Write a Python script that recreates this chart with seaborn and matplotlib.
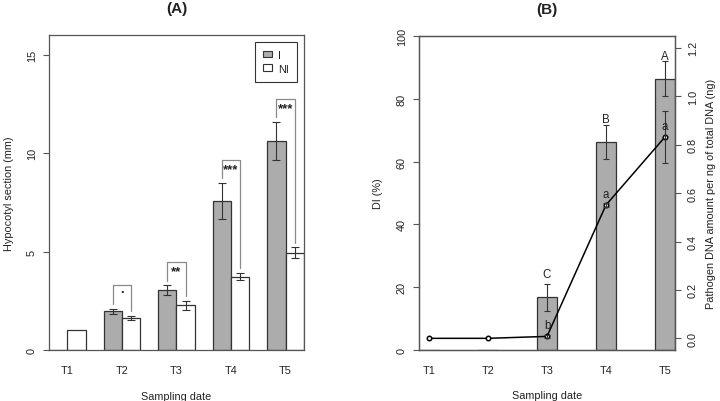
import numpy as np
import pandas as pd
import matplotlib
matplotlib.use('Agg')
import matplotlib.pyplot as plt
import seaborn as sns
from matplotlib.patches import Patch

dates = ['T1', 'T2', 'T3', 'T4', 'T5']

# (A) hypocotyl section (mm), infected / non-infected
hyp_I = [0.0, 1.97, 3.04, 7.57, 10.6]
hyp_I_err = [np.nan, 0.12, 0.24, 0.90, 0.97]
hyp_NI = [1.0, 1.63, 2.26, 3.72, 4.93]
hyp_NI_err = [np.nan, 0.10, 0.21, 0.18, 0.28]
signif = ['', '.', '**', '***', '***']

# (B) disease index and pathogen DNA
di = [0.0, 0.0, 16.7, 66.2, 86.4]
di_err = [np.nan, np.nan, 4.2, 5.4, 5.6]
di_letters = ['', '', 'C', 'B', 'A']
dna = [0.0, 0.0, 0.008, 0.551, 0.832]
dna_err = [0.0, 0.0, 0.006, 0.01, 0.107]
dna_letters = ['', '', 'b', 'a', 'a']

grey = '#acacac'
ink = '#333333'
fs = 7.8

sns.set_style('ticks')
plt.rcParams['font.family'] = ['Liberation Sans', 'DejaVu Sans']
plt.rcParams['font.size'] = fs
plt.rcParams['axes.edgecolor'] = '#555555'
plt.rcParams['axes.linewidth'] = 0.9
plt.rcParams['text.color'] = '#222222'
plt.rcParams['axes.labelcolor'] = '#222222'
plt.rcParams['xtick.color'] = '#555555'
plt.rcParams['ytick.color'] = '#555555'
plt.rcParams['xtick.labelcolor'] = '#222222'
plt.rcParams['ytick.labelcolor'] = '#222222'

fig = plt.figure(figsize=(7.2, 4.02), dpi=100)
axA = fig.add_axes([0.068, 0.127, 0.354, 0.783])
axB = fig.add_axes([0.5824, 0.1276, 0.3551, 0.7796])

# ---------- panel A ----------
dfA = pd.DataFrame({'date': dates * 2,
                    'group': ['I'] * 5 + ['NI'] * 5,
                    'value': hyp_I + hyp_NI})
sns.barplot(dfA, x='date', y='value', hue='group', order=dates,
            hue_order=['I', 'NI'], palette={'I': grey, 'NI': 'white'},
            width=0.67, errorbar=None, saturation=1, edgecolor=ink,
            linewidth=0.9, legend=False, ax=axA)

centers = []
for cont, vals, errs in zip(axA.containers, [hyp_I, hyp_NI], [hyp_I_err, hyp_NI_err]):
    xs = []
    for bar, v, e in zip(cont, vals, errs):
        x = bar.get_x() + bar.get_width() / 2
        xs.append(x)
        if np.isnan(e):
            continue
        axA.errorbar(x, v, yerr=e, color=ink, capsize=2.8,
                     elinewidth=0.8, capthick=0.8)
    centers.append(xs)

for i, s in enumerate(signif):
    if not s:
        continue
    xl, xr = centers[0][i], centers[1][i]
    tl = hyp_I[i] + hyp_I_err[i]
    tr = hyp_NI[i] + hyp_NI_err[i]
    top = max(tl, tr) + 1.2
    axA.plot([xl, xl, xr, xr], [tl + 0.25, top, top, tr + 0.25],
             color='#8a8a8a', lw=0.9)
    off = 0.2 if s == '.' else 0.5
    axA.text((xl + xr) / 2, top - off, s, ha='center', va='center',
             fontsize=9.5, fontweight='bold')

axA.legend(handles=[Patch(facecolor=grey, edgecolor=ink, lw=0.8, label='I'),
                    Patch(facecolor='white', edgecolor=ink, lw=0.8, label='NI')],
           loc='upper right', fancybox=False, edgecolor=ink, framealpha=1,
           handlelength=0.8, handleheight=0.6, borderaxespad=0.6, borderpad=0.75,
           labelspacing=0.35, handletextpad=0.6, fontsize=fs)
axA.get_legend().get_frame().set_linewidth(0.8)

axA.set_xlim(-0.335, 4.335)
axA.set_ylim(0, 16)
axA.set_yticks([0, 5, 10, 15])
axA.tick_params(axis='y', length=4.3, width=0.8, pad=4.5, labelrotation=90)
axA.tick_params(axis='x', length=0, pad=11)
for lab in axA.get_yticklabels():
    lab.set_va('center')
axA.set_xlabel('Sampling date', labelpad=11)
axA.set_ylabel('Hypocotyl section (mm)', labelpad=9)
axA.set_title('(A)', fontweight='bold', fontsize=11, pad=17)

# ---------- panel B ----------
sns.barplot(x=dates, y=di, color=grey, width=0.34, errorbar=None,
            saturation=1, edgecolor=ink, linewidth=0.9, ax=axB)
bx = [bar.get_x() + bar.get_width() / 2 for bar in axB.containers[0]]
for x, v, e, t in zip(bx, di, di_err, di_letters):
    if not np.isnan(e):
        axB.errorbar(x, v, yerr=e, color=ink, capsize=2.3,
                     elinewidth=0.8, capthick=0.8)
    if t:
        axB.text(x, v + 7.4, t, ha='center', va='center', fontsize=fs + 0.5)

ax2 = axB.twinx()
sns.lineplot(x=bx, y=dna, ax=ax2, color='black', lw=1.1, marker='o',
             markersize=3.2, markerfacecolor='white', markeredgecolor='black',
             markeredgewidth=1.1)
for x, v, e, t in zip(bx, dna, dna_err, dna_letters):
    if e > 0:
        ax2.errorbar(x, v, yerr=e, color=ink, capsize=2.5,
                     elinewidth=0.8, capthick=0.8)
    if t:
        ax2.text(x, v + 0.047, t, ha='center', va='center', fontsize=fs + 0.5)

axB.set_xlim(-0.165, 4.17)
axB.set_ylim(0, 100)
axB.set_yticks([0, 20, 40, 60, 80, 100])
axB.tick_params(axis='y', length=4.3, width=0.8, pad=4.7, labelrotation=90)
axB.tick_params(axis='x', length=0, pad=11)
for lab in axB.get_yticklabels():
    lab.set_va('center')
axB.set_xticks(range(len(dates)))
axB.set_xticklabels(dates)
axB.set_xlabel('Sampling date', labelpad=11)
axB.set_ylabel('DI (%)', labelpad=10)
axB.set_title('(B)', fontweight='bold', fontsize=11, pad=17)

ax2.set_ylim(-0.047, 1.248)
ax2.set_yticks([0.0, 0.2, 0.4, 0.6, 0.8, 1.0, 1.2])
ax2.set_yticklabels(['0.0', '0.2', '0.4', '0.6', '0.8', '1.0', '1.2'])
ax2.tick_params(axis='y', length=4.3, width=0.8, pad=5, labelrotation=90)
for lab in ax2.get_yticklabels():
    lab.set_va('center')
ax2.set_ylabel('Pathogen DNA amount per ng of total DNA (ng)', labelpad=6)

fig.savefig('out.png', dpi=100)
